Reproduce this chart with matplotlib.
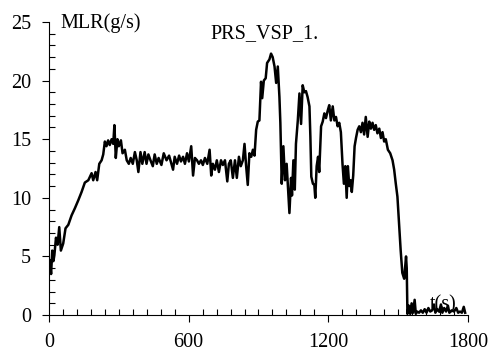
import matplotlib.pyplot as plt
from matplotlib.ticker import MultipleLocator

# mass loss rate
t = [0, 3, 9, 14, 19, 23, 30, 37, 44, 51, 61, 71, 83, 97, 111, 126, 140, 154, 169, 183,
     190, 200, 207, 216, 226, 233, 240, 247, 254, 261, 269, 276, 281, 287, 294, 300, 309,
     316, 326, 334, 343, 351, 360, 369, 377, 384, 393, 401, 411, 419, 427, 436, 446, 454,
     463, 471, 483, 493, 505, 516, 526, 533, 540, 550, 559, 567, 576, 584, 593, 601, 611,
     619, 627, 636, 644, 653, 661, 670, 680, 690, 697, 704, 713, 721, 730, 739, 747, 756,
     766, 773, 781, 790, 799, 807, 816, 824, 833, 840, 847, 854, 861, 869, 876, 883, 890,
     897, 904, 911, 916, 923, 931, 937, 947, 954, 961, 969, 976, 983, 990, 994, 1000, 1007,
     1014, 1021, 1029, 1033, 1040, 1044, 1050, 1056, 1061, 1069, 1076, 1083, 1090, 1097,
     1104, 1111, 1119, 1123, 1127, 1134, 1140, 1144, 1150, 1156, 1161, 1169, 1176, 1183,
     1190, 1197, 1204, 1211, 1219, 1226, 1233, 1240, 1247, 1254, 1261, 1267, 1273, 1279,
     1284, 1290, 1296, 1301, 1307, 1313, 1319, 1326, 1333, 1340, 1347, 1354, 1361, 1369,
     1376, 1383, 1390, 1397, 1404, 1411, 1419, 1426, 1433, 1440, 1447, 1456, 1466, 1476,
     1483, 1490, 1497, 1504, 1511, 1518, 1526, 1530, 1534, 1537, 1540, 1546, 1552, 1558,
     1564, 1571, 1576, 1582, 1590, 1598, 1606, 1614, 1622, 1630, 1638, 1646, 1654, 1660,
     1668, 1676, 1684, 1690, 1698, 1706, 1714, 1720, 1730, 1740, 1750, 1758, 1766, 1774,
     1782, 1788]
mlr = [4.2, 4.7, 3.5, 5.5, 4.6, 5.1, 6.6, 6.0, 7.5, 5.5, 6.1, 7.4, 7.7, 8.5, 9.1, 9.8, 10.5,
       11.3, 11.5, 12.1, 11.5, 12.2, 11.5, 12.9, 13.2, 13.7, 14.8, 14.4, 14.9, 14.5, 15.0,
       14.6, 16.2, 13.4, 15.0, 14.4, 14.9, 13.8, 14.1, 13.2, 12.9, 13.4, 12.9, 13.9, 13.2,
       12.2, 13.9, 12.9, 13.9, 12.9, 13.7, 13.2, 12.7, 13.7, 12.9, 13.4, 12.8, 13.8, 13.2,
       13.6, 12.9, 12.4, 13.5, 12.9, 13.6, 13.1, 13.5, 12.9, 13.8, 13.1, 14.4, 11.9, 13.4,
       13.2, 12.9, 13.2, 12.8, 13.4, 12.9, 14.1, 11.9, 12.9, 12.4, 13.2, 12.2, 13.2, 12.8,
       13.2, 11.4, 12.9, 13.2, 11.7, 13.2, 11.7, 13.5, 12.7, 13.2, 14.6, 12.7, 11.1, 13.8,
       13.5, 14.1, 13.6, 15.8, 16.5, 16.6, 19.9, 18.5, 20.0, 20.2, 21.5, 21.8, 22.3, 22.0,
       21.2, 19.8, 21.2, 18.6, 16.4, 11.2, 14.4, 11.5, 12.9, 10.1, 8.7, 11.7, 10.2, 13.2,
       10.7, 14.6, 16.6, 18.9, 16.3, 19.6, 19.0, 19.1, 18.6, 17.8, 15.2, 11.8, 11.2, 11.1,
       10.0, 12.7, 13.5, 12.2, 16.1, 16.5, 17.2, 16.8, 17.4, 17.9, 16.6, 17.8, 16.6, 16.9,
       16.1, 16.4, 15.6, 12.9, 11.2, 12.7, 10.0, 12.7, 11.0, 11.5, 10.5, 11.9, 14.4, 15.1,
       15.8, 16.1, 15.6, 16.4, 15.4, 16.9, 15.2, 16.5, 15.9, 16.4, 15.8, 16.2, 15.5, 15.9,
       15.1, 15.6, 14.8, 15.0, 14.1, 13.8, 13.2, 12.4, 11.2, 10.1, 7.8, 5.5, 3.6, 3.1, 4.0,
       5.0, 4.0, 0.1, 0.8, 0.1, 1.0, 0.2, 1.3, 0.1, 0.3, 0.2, 0.4, 0.2, 0.5, 0.2, 0.6, 0.3,
       0.4, 0.9, 0.2, 0.5, 0.3, 0.9, 0.2, 0.6, 0.3, 0.8, 0.2, 0.4, 0.3, 0.6, 0.2, 0.3, 0.2,
       0.7, 0.2]

plt.rcParams['font.family'] = ['Liberation Serif', 'DejaVu Serif']

fig = plt.figure(figsize=(4.9, 3.54), dpi=100)
ax = fig.add_axes([0.1, 0.11, 0.855, 0.828])
ax.plot(t, mlr, color='black', lw=1.8)

ax.set_xlim(0, 1800)
ax.set_ylim(0, 25)
ax.spines['top'].set_visible(False)
ax.spines['right'].set_visible(False)
ax.xaxis.set_major_locator(MultipleLocator(600))
ax.xaxis.set_minor_locator(MultipleLocator(60))
ax.yaxis.set_major_locator(MultipleLocator(5))
ax.yaxis.set_minor_locator(MultipleLocator(1))
ax.tick_params(which='major', direction='out', length=5, width=0.8, labelsize=14.5, pad=8)
ax.tick_params(which='minor', direction='in', length=4, width=0.8)

fig.text(60 / 490, 1 - 28 / 354, "MLR(g/s)", fontsize=14.5)
fig.text(210 / 490, 1 - 38 / 354, "PRS_VSP_1.", fontsize=14.5)
fig.text(430 / 490, 1 - 309 / 354, "t(s)", fontsize=14.5)

fig.savefig('out.png', dpi=100)
